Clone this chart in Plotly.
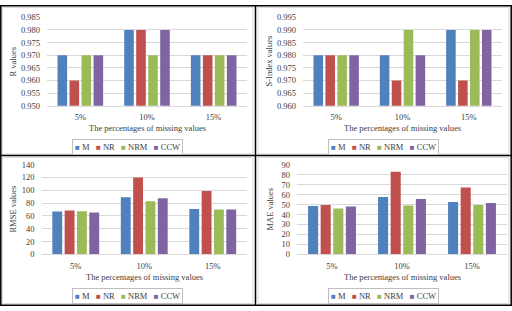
import plotly.graph_objects as go

categories = ["5%", "10%", "15%"]
series_names = ["M", "NR", "NRM", "CCW"]
colors = ["#4F81BD", "#C0504D", "#9BBB59", "#8064A2"]

# R values
r_M = [0.970, 0.980, 0.970]
r_NR = [0.960, 0.980, 0.970]
r_NRM = [0.970, 0.970, 0.970]
r_CCW = [0.970, 0.980, 0.970]

# S-Index values
s_M = [0.980, 0.980, 0.990]
s_NR = [0.980, 0.970, 0.970]
s_NRM = [0.980, 0.990, 0.990]
s_CCW = [0.980, 0.980, 0.990]

# RMSE values
rmse_M = [67, 89, 71]
rmse_NR = [68.5, 120, 99]
rmse_NRM = [67.5, 83, 70]
rmse_CCW = [65.5, 87.5, 70]

# MAE values
mae_M = [48.5, 57.5, 52.5]
mae_NR = [49.5, 83, 67]
mae_NRM = [46, 49, 49.5]
mae_CCW = [48, 55.5, 51.5]

y_titles = ["R values", "S-Index values", "RMSE values", "MAE values"]
x_title = "The percentages of missing values"

W, H = 512, 311
def px(p):
    return p / W
def py(p):
    return 1 - p / H

panels = [
    dict(data=[r_M, r_NR, r_NRM, r_CCW], x0=47, x1=247, y0=12.7, y1=104,
         rng=[0.95, 0.985], dtick=0.005, fmt=".3f", ytx=13, xty=127, lgy=146.5, lgx=127.5),
    dict(data=[s_M, s_NR, s_NRM, s_CCW], x0=303, x1=502, y0=12.7, y1=104,
         rng=[0.96, 0.995], dtick=0.005, fmt=".3f", ytx=269, xty=127, lgy=146.5, lgx=383),
    dict(data=[rmse_M, rmse_NR, rmse_NRM, rmse_CCW], x0=41.5, x1=247, y0=165, y1=257.7,
         rng=[0, 140], dtick=20, fmt="d", ytx=13, xty=281, lgy=301, lgx=127.5),
    dict(data=[mae_M, mae_NR, mae_NRM, mae_CCW], x0=297, x1=507, y0=165, y1=257.7,
         rng=[0, 90], dtick=10, fmt="d", ytx=270, xty=281, lgy=301, lgx=383),
]

FONT = "Liberation Serif"
TXT = "#404040"
GRID = "#D9D9D9"

fig = go.Figure()
annotations = []
shapes = []
layout_axes = {}

for i, p in enumerate(panels):
    n = "" if i == 0 else str(i + 1)
    for vals, name, col in zip(p["data"], series_names, colors):
        fig.add_trace(go.Bar(x=categories, y=vals, name=name, marker_color=col,
                             marker_line_width=0, showlegend=False,
                             xaxis="x" + n, yaxis="y" + n))
    layout_axes["xaxis" + n] = dict(
        domain=[px(p["x0"]), px(p["x1"])], anchor="y" + n,
        showgrid=False, showline=True, linecolor=GRID, linewidth=1,
        ticks="", ticklabelstandoff=3,
        tickfont=dict(family=FONT, size=8.5, color=TXT))
    layout_axes["yaxis" + n] = dict(
        domain=[py(p["y1"]), py(p["y0"])], anchor="x" + n,
        range=p["rng"], dtick=p["dtick"], tick0=p["rng"][0], tickformat=p["fmt"],
        showgrid=True, gridcolor=GRID, gridwidth=1, zeroline=False,
        showline=False, ticks="", ticklabelstandoff=6,
        tickfont=dict(family=FONT, size=8.5, color=TXT))
    # axis titles
    annotations.append(dict(text=y_titles[i], x=px(p["ytx"]), y=py((p["y0"] + p["y1"]) / 2),
                            xref="paper", yref="paper", showarrow=False, textangle=-90,
                            font=dict(family=FONT, size=8.5, color=TXT),
                            xanchor="center", yanchor="middle"))
    annotations.append(dict(text=x_title, x=px((p["x0"] + p["x1"]) / 2), y=py(p["xty"]),
                            xref="paper", yref="paper", showarrow=False,
                            font=dict(family=FONT, size=8.5, color=TXT),
                            xanchor="center", yanchor="middle"))
    # legend
    legend_txt = "&nbsp;&nbsp;&nbsp;".join(
        f"<span style='color:{c};font-size:8px'>■</span>&nbsp;{nm}" for nm, c in zip(series_names, colors))
    annotations.append(dict(text=legend_txt, x=px(p["lgx"]), y=py(p["lgy"]),
                            xref="paper", yref="paper", showarrow=False,
                            font=dict(family=FONT, size=8.5, color=TXT),
                            xanchor="center", yanchor="middle",
                            bordercolor="#BFBFBF", borderwidth=1, borderpad=2, bgcolor="white"))

# panel frames (light gray)
for (a, b, c, d) in [(2.5, 2.5, 253, 154), (258, 2.5, 509, 154), (2.5, 157.5, 253, 308.5), (258, 157.5, 509, 308.5)]:
    shapes.append(dict(type="rect", xref="paper", yref="paper", x0=px(a), x1=px(c), y0=py(d), y1=py(b),
                       line=dict(color="#D9D9D9", width=1)))
# black outer border and dividers
shapes.append(dict(type="rect", xref="paper", yref="paper", x0=px(0.8), x1=px(511.2), y0=py(310.2), y1=py(0.8),
                   line=dict(color="black", width=1.5)))
shapes.append(dict(type="line", xref="paper", yref="paper", x0=px(255.5), x1=px(255.5), y0=0, y1=1,
                   line=dict(color="black", width=1.5)))
shapes.append(dict(type="line", xref="paper", yref="paper", x0=0, x1=1, y0=py(155.5), y1=py(155.5),
                   line=dict(color="black", width=1.5)))

fig.update_layout(
    width=W, height=H, margin=dict(l=0, r=0, t=0, b=0),
    paper_bgcolor="white", plot_bgcolor="white",
    barmode="group", bargap=0.28, bargroupgap=0.2,
    annotations=annotations, shapes=shapes, showlegend=False,
    **layout_axes)

fig.write_html("out.html")
